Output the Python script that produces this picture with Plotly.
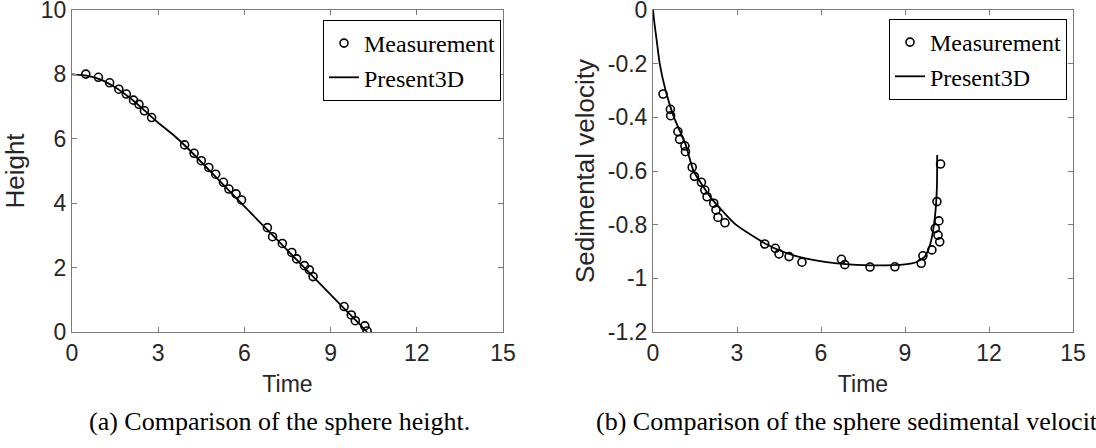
import plotly.graph_objects as go

W, H = 1096, 448

# ---- Data: (a) sphere height ----
meas_t_h = [0.48, 0.92, 1.31, 1.63, 1.89, 2.14, 2.33, 2.52, 2.77, 3.92, 4.25, 4.50, 4.76,
            5.00, 5.27, 5.46, 5.71, 5.90, 6.80, 6.98, 7.32, 7.65, 7.82, 8.09, 8.26, 8.39,
            9.47, 9.72, 9.86, 10.19, 10.27]
meas_h = [8.01, 7.91, 7.74, 7.54, 7.39, 7.20, 7.07, 6.87, 6.66, 5.81, 5.55, 5.32, 5.11,
          4.90, 4.65, 4.44, 4.29, 4.10, 3.24, 2.96, 2.75, 2.47, 2.27, 2.06, 1.93, 1.72,
          0.79, 0.53, 0.35, 0.19, 0.03]
sim_t_h = [0.0, 0.5, 1.0, 1.5, 2.0, 2.5, 3.0, 3.5, 4.0, 5.0, 6.0, 7.0, 8.0, 9.0, 10.0, 10.27]
sim_h = [8.0, 7.96, 7.84, 7.60, 7.28, 6.90, 6.50, 6.14, 5.73, 4.82, 3.90, 2.99, 2.08, 1.16, 0.25, 0.0]

# ---- Data: (b) sedimental velocity ----
meas_t_v = [0.36, 0.62, 0.63, 0.89, 0.95, 1.14, 1.16, 1.40, 1.48, 1.73, 1.85, 1.93, 2.17,
            2.25, 2.32, 2.57, 3.99, 4.37, 4.50, 4.86, 5.32, 6.73, 6.85, 7.75, 8.64, 9.58,
            9.64, 9.96, 10.24, 10.18, 10.08, 10.21, 10.14, 10.27]
meas_v = [-0.313, -0.370, -0.394, -0.453, -0.482, -0.507, -0.528, -0.586, -0.620, -0.642,
          -0.671, -0.696, -0.720, -0.745, -0.773, -0.793, -0.872, -0.888, -0.909, -0.919,
          -0.940, -0.929, -0.949, -0.958, -0.957, -0.944, -0.916, -0.894, -0.864, -0.839,
          -0.814, -0.786, -0.714, -0.574]
sim_t_v = [0.0, 0.03, 0.07, 0.14, 0.24, 0.45, 0.75, 1.16, 1.45, 2.07, 2.96, 4.0, 4.62, 5.4,
           6.2, 7.0, 8.0, 9.0, 9.4, 9.7, 9.88, 9.99, 10.08, 10.14, 10.15]
sim_v = [0.0, -0.03, -0.065, -0.12, -0.20, -0.30, -0.40, -0.50, -0.60, -0.70, -0.80, -0.87,
         -0.90, -0.925, -0.940, -0.948, -0.952, -0.948, -0.94, -0.92, -0.88, -0.83, -0.76,
         -0.66, -0.54]

x_ticks = [0, 3, 6, 9, 12, 15]
h_ticks = [0, 2, 4, 6, 8, 10]
v_ticks = [-1.2, -1.0, -0.8, -0.6, -0.4, -0.2, 0.0]
v_tick_text = ["-1.2", "-1", "-0.8", "-0.6", "-0.4", "-0.2", "0"]

labels = ["Measurement", "Present3D"]
captions = ["(a) Comparison of the sphere height.",
            "(b) Comparison of the sphere sedimental velocity."]

sans = "Liberation Sans, Arial, sans-serif"
serif = "Liberation Serif, Times New Roman, serif"
tick_col = "#262626"
axis_col = "#7a7a7a"


def px(x):
    return x / W


def py(y):
    return 1 - y / H


fig = go.Figure()

fig.add_trace(go.Scatter(x=meas_t_h, y=meas_h, mode="markers", name=labels[0],
                         marker=dict(symbol="circle-open", size=8, color="black",
                                     line=dict(width=1.6, color="black")),
                         xaxis="x", yaxis="y", legend="legend"))
fig.add_trace(go.Scatter(x=sim_t_h, y=sim_h, mode="lines", name=labels[1],
                         line=dict(color="black", width=1.8, shape="spline", smoothing=0.6),
                         xaxis="x", yaxis="y", legend="legend"))
fig.add_trace(go.Scatter(x=meas_t_v, y=meas_v, mode="markers", name=labels[0],
                         marker=dict(symbol="circle-open", size=8, color="black",
                                     line=dict(width=1.6, color="black")),
                         xaxis="x2", yaxis="y2", legend="legend2"))
fig.add_trace(go.Scatter(x=sim_t_v, y=sim_v, mode="lines", name=labels[1],
                         line=dict(color="black", width=1.8, shape="spline", smoothing=0.5),
                         xaxis="x2", yaxis="y2", legend="legend2"))

y_dom = [py(332), py(10)]
ax_common = dict(showgrid=False, zeroline=False, showline=True, linecolor=axis_col,
                 linewidth=1, mirror="ticks", ticks="inside", ticklen=5, tickcolor=axis_col,
                 automargin=False, ticklabeloverflow="allow",
                 tickfont=dict(family=sans, size=23, color=tick_col))

fig.update_layout(
    width=W, height=H,
    margin=dict(l=0, r=0, t=0, b=0, autoexpand=False),
    paper_bgcolor="white", plot_bgcolor="white",
    xaxis=dict(domain=[px(72), px(503)], range=[0, 15], tickvals=x_ticks, anchor="y",
               title=dict(text="Time", font=dict(family=sans, size=23, color=tick_col), standoff=11),
               **ax_common),
    yaxis=dict(domain=y_dom, range=[0, 10], tickvals=h_ticks, anchor="x",
               title=dict(text="Height", font=dict(family=sans, size=26, color=tick_col), standoff=18),
               **ax_common),
    xaxis2=dict(domain=[px(653), px(1073)], range=[0, 15], tickvals=x_ticks, anchor="y2",
                title=dict(text="Time", font=dict(family=sans, size=23, color=tick_col), standoff=11),
                **ax_common),
    yaxis2=dict(domain=y_dom, range=[-1.2, 0], tickvals=v_ticks, ticktext=v_tick_text, anchor="x2",
                title=dict(text="Sedimental velocity", font=dict(family=sans, size=26, color=tick_col),
                           standoff=5),
                **ax_common),
    legend=dict(x=px(501), y=py(20), xanchor="right", yanchor="top",
                bgcolor="white", bordercolor="black", borderwidth=1,
                font=dict(family=serif, size=24, color="black"), tracegroupgap=0,
                itemwidth=30),
    legend2=dict(x=px(1067), y=py(19), xanchor="right", yanchor="top",
                 bgcolor="white", bordercolor="black", borderwidth=1,
                 font=dict(family=serif, size=24, color="black"), tracegroupgap=0,
                 itemwidth=30),
    showlegend=True,
)

fig.add_annotation(text=captions[0], xref="paper", yref="paper", x=px(279), y=py(421),
                   xanchor="center", yanchor="middle", showarrow=False,
                   font=dict(family=serif, size=26, color="black"))
fig.add_annotation(text=captions[1], xref="paper", yref="paper", x=px(594), y=py(421),
                   xanchor="left", yanchor="middle", showarrow=False,
                   font=dict(family=serif, size=26, color="black"))

# Remove the browser's default 8px body margin so the figure sits at the page origin.
fig.write_html("out.html", config={"displayModeBar": False},
               post_script="document.body.style.margin='0px';")
